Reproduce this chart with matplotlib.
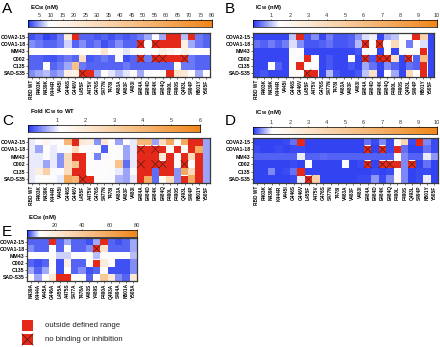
import numpy as np
import matplotlib
matplotlib.use("Agg")
import matplotlib.pyplot as plt
from matplotlib.colors import LinearSegmentedColormap
from matplotlib.patches import Rectangle

plt.rcParams['font.family'] = ['Liberation Sans', 'DejaVu Sans']
plt.rcParams['mathtext.fontset'] = 'custom'
plt.rcParams['mathtext.rm'] = 'Liberation Sans'
plt.rcParams['mathtext.bf'] = 'Liberation Sans:bold'

# Data
# -----------------------------------------------------------------------------
OUT = np.inf   # outside defined range
NB = np.nan    # no binding or inhibition

antibodies = ["COVA2-15", "COVA1-18", "MM43", "C002", "C135", "SAD-S35"]
variants = ["RBD WT", "R403K", "N439K", "K444R", "V445I", "G446S", "G446V",
            "L455F", "A475V", "G476S", "S477N", "T478I", "V483A", "V483F",
            "V483I", "E484A", "E484D", "E484K", "E484Q", "F490L", "F490S",
            "Q493L", "S494P", "N501Y", "Y505F"]
alanine = ["N439A", "K444A", "V445A", "G446A", "L455A", "A475S", "S477A",
           "T478A", "V483S", "Y489S", "F490A", "Q493A", "S494A", "N501A",
           "Y505A"]

# A: EC50 (nM), binding of variants
ec50_variants = [
    [1, 2, 0.5, 1, 3, 20, OUT, 2, 2, 1.5, 2, 1, 2, 1.5, 2, 3, 5, 10, 5, OUT, OUT, 6, OUT, 3, 2],
    [4, 3, 2, 2, 3, 7, 2, 4, 2, 3, 1, 2, 4, 2, 2, NB, 9, NB, OUT, OUT, OUT, 18, 5, 3, 2],
    [11, 10, 10, 9, 10, 11, 9, 10, 10, 12, 24, 10, 9, 8, 11, 10, 9, 11, 18, 14, 10, 16, 12, 10, 11],
    [2, 2, 1.5, 1, 2, 3, 2, 28, 1.5, 2, 3, 2, 9, 1, 2, NB, 3, NB, NB, OUT, OUT, NB, 3, 2, 2],
    [2, 2, 10, 2, 3, 5, 45, 3, 2, 2, 2, 2, 2, 3, 2, 2, 2, 2, 2, 2, 10, 3, 3, 2, 2],
    [4, 5, 6, 4, 5, 18, 16, NB, OUT, 5, 10, 8, 6, 8, 12, 5, 9, 10, 12, OUT, 25, 22, 11, 5, 10],
]

# B: IC50 (nM), ACE2 inhibition
ic50_inhib = [
    [0.1, 0.1, 0.1, 0.1, 0.1, 1.0, OUT, 0.2, 0.6, 0.1, 0.5, 0.2, 0.2, 0.3, 0.7, 1.2, 1.3, 0.1, 0.8, 1.0, 1.6, 1.6, OUT, 4.5, 0.1],
    [0.4, 0.3, 0.5, 0.3, 0.5, 1.2, 0.6, 0.2, 0.2, 0.3, 0.4, 0.2, 0.2, 0.3, 0.9, NB, 1.6, NB, 1.6, 4.0, 1.6, 0.5, 1.5, 1.2, 0.1],
    [0.1, 0.1, 0.1, 0.1, 0.1, 1.4, 1.6, 0.1, 0.1, 0.1, 0.1, 0.1, 0.1, 0.1, 0.2, 1.6, 1.6, 0.1, 1.6, 0.1, 1.6, 1.6, 1.6, OUT, 0.1],
    [0.1, 0.1, 0.1, 0.1, 0.1, 1.5, 1.6, OUT, 1.6, 0.1, 0.2, 0.1, 0.1, 1.7, 0.1, NB, 0.2, NB, NB, 3.5, 0.1, NB, 0.3, 6.0, 0.1],
    [0.1, 0.1, 1.6, 0.3, 0.1, 1.5, OUT, 1.6, 1.6, 0.1, 0.2, 0.1, 0.1, 0.2, 0.1, 0.8, 0.4, 0.1, 0.6, 0.3, 0.1, 0.4, 0.3, OUT, 0.1],
    [0.1, 0.2, 0.1, 0.1, 0.1, 1.6, 1.6, NB, OUT, 0.1, 0.9, 0.2, 0.1, 0.1, 0.2, 1.0, 3.5, 0.1, 1.5, 0.8, 0.1, 4.0, 1.5, OUT, 0.1],
]

# C: fold IC50 to WT
fold_ic50 = [
    [1.0, 1.2, 1.5, 1.1, 1.2, 4.0, OUT, 2.0, 1.8, 0.5, 2.0, 1.2, 0.6, 1.2, 1.0, 4.0, 4.0, 0.6, 2.5, 4.5, 1.3, 4.5, OUT, OUT, 0.6],
    [1.0, 0.6, 1.2, 1.0, 1.1, 1.3, 2.5, 1.2, 1.1, 1.2, 0.2, 1.2, 1.1, 0.6, 1.0, NB, OUT, NB, OUT, 1.3, OUT, 1.2, OUT, 4.5, 0.6],
    [1.0, 1.0, 1.1, 1.0, 0.5, 2.5, OUT, OUT, 1.2, 0.4, 1.1, 1.2, 1.1, 0.6, 1.0, OUT, OUT, OUT, 2.0, OUT, 1.2, OUT, 2.5, OUT, 0.6],
    [1.0, 1.0, 0.6, 1.0, 0.5, 2.5, 3.5, OUT, 1.2, 1.1, 1.2, 1.2, 3.5, 0.3, 1.0, NB, OUT, NB, NB, OUT, 1.3, NB, 1.2, OUT, 0.6],
    [1.0, 1.8, 3.0, 1.1, 1.1, 2.5, OUT, OUT, 1.2, 1.1, 1.2, 1.1, 1.0, 0.6, 1.1, OUT, OUT, 0.3, OUT, OUT, 0.5, 4.5, 2.5, OUT, 0.6],
    [1.0, 1.1, 1.2, 1.1, 1.0, 4.5, 4.0, NB, OUT, 1.2, 1.1, 1.1, 0.7, 0.6, 1.0, OUT, 4.5, 0.3, 1.3, 2.5, 0.5, OUT, 4.5, OUT, 0.6],
]

# D: IC50 (nM), pseudovirus neutralization
ic50_neut = [
    [0.05, 0.05, 0.05, 0.05, 0.1, 0.3, OUT, 0.05, 0.05, 0.05, 0.05, 0.05, 0.05, 0.05, 0.05, 0.3, 0.1, 0.4, 0.1, 1.5, 4.0, 0.1, OUT, 0.4, 0.1],
    [0.1, 0.05, 0.05, 0.1, 0.05, 0.1, 0.1, 0.05, 0.05, 0.05, 0.05, 0.05, 0.05, 0.05, 0.05, NB, 0.05, NB, 0.1, OUT, 0.3, 0.05, 0.05, 0.3, 0.1],
    [0.2, 0.2, 0.2, 0.2, 0.2, 0.2, 0.9, 0.2, 0.2, 0.25, 0.2, 0.2, 0.2, 0.2, 0.2, 0.2, 0.2, 0.2, 0.2, 1.4, 0.4, 0.2, 0.2, 0.9, 0.5],
    [0.05, 0.05, 0.05, 0.05, 0.05, 0.1, 0.05, 1.0, 0.05, 0.05, 0.05, 0.05, 1.0, 0.05, 0.1, NB, 0.05, NB, NB, OUT, 0.4, NB, 0.05, 0.3, 0.05],
    [0.05, 0.05, 0.4, 0.05, 0.1, 0.3, OUT, 0.05, 0.05, 0.05, 0.05, 0.05, 0.05, 0.05, 0.05, 0.05, 0.1, 0.05, 0.1, 1.4, 0.4, 0.05, 0.1, 0.1, 0.05],
    [0.05, 0.05, 0.05, 0.05, 0.05, 0.1, 0.9, NB, 4.5, 0.05, 0.05, 0.05, 0.05, 0.05, 0.1, 0.1, 0.5, 0.1, 0.4, 1.4, 0.4, 0.05, 0.1, 0.9, 0.05],
]

# E: EC50 (nM), alanine scan
ec50_alanine = [
    [2, 2, 2, OUT, 2, 5, 2, 2, 1, 5, OUT, 2, 1, 2, 5],
    [4, 2, 2, 10, 2, 10, 2, 2, 4, NB, 25, 2, 2, 2, 5],
    [10, 10, 10, 10, 7, 7, 10, 10, 10, 6, 10, 10, 10, 10, 6],
    [2, 1, 2, 10, 1, 18, 2, 2, 10, OUT, 20, 11, 1, 1, 4],
    [5, 2, 5, 10, 1, 10, 2, 4, 1, 2, 10, 1, 1, 1, 4],
    [10, 5, 10, 22, OUT, OUT, 10, 11, 2, 10, 40, 22, 4, 2, 22],
]

# Plotting
# -----------------------------------------------------------------------------
W, H = 440, 347
BLUE = "#2a3cf2"
ORANGE = "#f0861a"
RED = "#e4291b"


def px(x0, y0, x1, y1):
    # pixel box (top-left origin) -> figure fraction
    return [x0 / W, 1 - y1 / H, (x1 - x0) / W, (y1 - y0) / H]


def make_cmap(white, vmax):
    return LinearSegmentedColormap.from_list(
        "bwo", [(0, BLUE), (white / vmax, "white"), (1, ORANGE)])


def draw_cross(ax, c, r, lw=0.5):
    ax.plot([c - 0.5, c + 0.5], [r - 0.5, r + 0.5], color="#5b1a10", lw=lw)
    ax.plot([c - 0.5, c + 0.5], [r + 0.5, r - 0.5], color="#5b1a10", lw=lw)


def heatmap(fig, box, data, cols, vmax, white):
    ax = fig.add_axes(px(*box))
    arr = np.array(data, dtype=float)
    ax.imshow(np.ma.masked_invalid(arr), cmap=make_cmap(white, vmax), vmin=0,
              vmax=vmax, aspect="auto", interpolation="nearest")
    for r, c in zip(*np.where(~np.isfinite(arr))):
        ax.add_patch(Rectangle((c - 0.5, r - 0.5), 1, 1, color=RED, lw=0))
        if np.isnan(arr[r, c]):
            draw_cross(ax, c, r)
    ax.set_xlim(-0.5, len(cols) - 0.5)
    ax.set_ylim(len(antibodies) - 0.5, -0.5)
    ax.set_xticks(range(len(cols)))
    ax.set_xticklabels(cols, rotation=90, fontsize=3.4, fontweight="bold")
    ax.set_yticks(range(len(antibodies)))
    ax.set_yticklabels(antibodies, fontsize=3.7, fontweight="bold")
    ax.tick_params(length=1.2, width=0.4, pad=0.6)
    for s in ax.spines.values():
        s.set_linewidth(0.9)
        s.set_color("#3a3a3a")
    return ax


def colorbar(fig, box, vmax, white, ticks):
    ax = fig.add_axes(px(*box))
    grad = np.linspace(0, vmax, 300)[None, :]
    ax.imshow(grad, cmap=make_cmap(white, vmax), extent=[0, vmax, 0, 1],
              aspect="auto", vmin=0, vmax=vmax)
    ax.xaxis.tick_top()
    ax.set_xticks(ticks)
    ax.set_xticklabels([str(t) for t in ticks], fontsize=4.0, color="#333333")
    ax.set_yticks([])
    ax.tick_params(length=1, width=0.4, pad=0.4)
    for s in ax.spines.values():
        s.set_linewidth(0.5)
    return ax


fig = plt.figure(figsize=(W / 100, H / 100), dpi=100)

ec_title = r"EC$_{\mathbf{50}}$ (nM)"
ic_title = r"IC$_{\mathbf{50}}$ (nM)"
fold_title = r"Fold IC$_{\mathbf{50}}$ to WT"

# A
heatmap(fig, (28, 33, 210, 77), ec50_variants, variants, 80, 9)
colorbar(fig, (28, 20, 212, 27), 80, 9, list(range(5, 85, 5)))
fig.text(30 / W, 1 - 8 / H, ec_title, fontsize=4.3, fontweight="bold", va="center")
fig.text(2 / W, 1 - 9 / H, "A", fontsize=11, va="center")

# B
heatmap(fig, (253, 33, 434, 77), ic50_inhib, variants, 10, 1.4)
colorbar(fig, (253, 20, 437, 27), 10, 1.4, list(range(1, 11)))
fig.text(255 / W, 1 - 8 / H, ic_title, fontsize=4.3, fontweight="bold", va="center")
fig.text(225 / W, 1 - 9 / H, "B", fontsize=11, va="center")

# C
heatmap(fig, (28, 138, 210, 183), fold_ic50, variants, 6, 1.1)
colorbar(fig, (28, 125, 200, 132), 6, 1.1, list(range(1, 7)))
fig.text(30 / W, 1 - 112 / H, fold_title, fontsize=4.3, fontweight="bold", va="center")
fig.text(2 / W, 1 - 121 / H, "C", fontsize=11, va="center")

# D
heatmap(fig, (253, 138, 438, 183), ic50_neut, variants, 10, 1.0)
colorbar(fig, (253, 127, 437, 134), 10, 1.0, list(range(1, 11)))
fig.text(255 / W, 1 - 113 / H, ic_title, fontsize=4.3, fontweight="bold", va="center")
fig.text(225 / W, 1 - 121 / H, "D", fontsize=11, va="center")

# E
heatmap(fig, (27, 238, 137, 281), ec50_alanine, alanine, 80, 9)
colorbar(fig, (27, 230, 137, 237), 80, 9, [20, 40, 60, 80])
fig.text(28 / W, 1 - 217 / H, ec_title, fontsize=4.3, fontweight="bold", va="center")
fig.text(2 / W, 1 - 232 / H, "E", fontsize=11, va="center")

# Legend
leg = fig.add_axes([0, 0, 1, 1], facecolor="none")
leg.set_xlim(0, W)
leg.set_ylim(H, 0)
leg.axis("off")
leg.add_patch(Rectangle((22, 320), 11, 11, color=RED, lw=0))
leg.add_patch(Rectangle((22, 334), 11, 11, color=RED, lw=0))
leg.plot([22, 33], [334, 345], color="#5b1a10", lw=0.6)
leg.plot([22, 33], [345, 334], color="#5b1a10", lw=0.6)
leg.text(45, 325.5, "outside defined range", fontsize=5.6, va="center", color="#222222")
leg.text(45, 339.5, "no binding or inhibition", fontsize=5.6, va="center", color="#222222")

fig.savefig("out.png", dpi=100)
